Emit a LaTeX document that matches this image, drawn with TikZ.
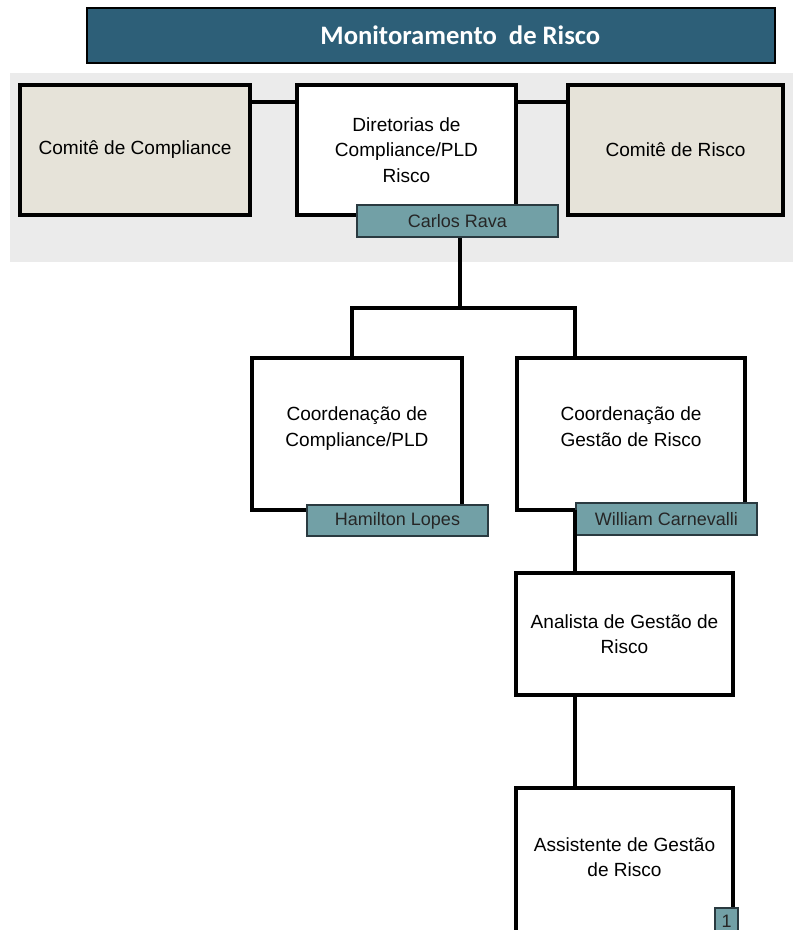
\documentclass[tikz,border=0pt]{standalone}
\usepackage{fontspec}
\setmainfont{Liberation Sans}
\newfontfamily\titlefont{Carlito}
\usetikzlibrary{calc}
\definecolor{titlebg}{HTML}{2D5F78}
\definecolor{bandbg}{HTML}{EBEBEB}
\definecolor{beige}{HTML}{E6E3D9}
\definecolor{tagbg}{HTML}{72A0A6}
\definecolor{tagline}{HTML}{2A3A40}
\tikzset{
  box/.style={draw=black, line width=2.8pt, align=center, inner sep=0pt, font=\fontsize{14.3}{19.2}\selectfont},
  tag/.style={draw=tagline, line width=1.3pt, fill=tagbg, inner sep=0pt, text=black!85, font=\fontsize{13.5}{16}\selectfont},
  conn/.style={draw=black, line width=2.8pt}
}
\begin{document}
\begin{tikzpicture}[x=0.75pt,y=-0.75pt]
\useasboundingbox (0,0) rectangle (793,930);
\clip (0,0) rectangle (793,930);
% title
\node[draw=black, line width=1pt, fill=titlebg, minimum width=516pt, minimum height=41.25pt, inner sep=0pt,
  text=white, font=\titlefont\bfseries\fontsize{20}{24}\selectfont] (title) at (431,35.5) {\hspace*{44pt}Monitoramento~ de Risco};
% band
\fill[bandbg] (10,73) rectangle (793,262);
% nodes
\node[box, fill=beige, minimum width=172.5pt, minimum height=97.5pt] (cc) at (135,150) {Comitê de Compliance};
\node[box, fill=white, minimum width=164.25pt, minimum height=97.5pt] (dir) at (406.5,150) {Diretorias de\\Compliance/PLD\\Risco};
\node[box, fill=beige, minimum width=161.25pt, minimum height=97.5pt] (cr) at (675.5,150) {Comitê de Risco};
\node[box, fill=white, minimum width=157.5pt, minimum height=114pt] (co1) at (357,434) {Coordenação de\\Compliance/PLD\\[-8.5pt]\mbox{}};
\node[box, fill=white, minimum width=171pt, minimum height=114pt] (co2) at (631,434) {Coordenação de\\Gestão de Risco\\[-8.5pt]\mbox{}};
\node[box, fill=white, minimum width=162.75pt, minimum height=91.5pt] (an) at (624.5,634) {Analista de Gestão de\\Risco};
\node[box, fill=white, minimum width=162.75pt, minimum height=114pt] (as) at (624.5,864) {Assistente de Gestão\\de Risco\\[-9pt]\mbox{}};
% tags
\node[tag, minimum width=150.75pt, minimum height=24pt] (carlos) at (457.5,221) {Carlos Rava};
\node[tag, minimum width=135.75pt, minimum height=23.25pt] (ham) at (397.5,520.5) {Hamilton Lopes};
\node[tag, minimum width=135.75pt, minimum height=24pt] (wil) at (666.5,519) {William Carnevalli};
\node[tag, minimum width=17.25pt, minimum height=19.5pt] (one) at (726.5,921) {1};
% connectors
\coordinate (hub) at (460,308);
\coordinate (d1) at (352,358);
\coordinate (d2) at (575,358);
\coordinate (d2b) at (575,510);
\draw[conn] ($(cc.north east)!0.14!(cc.south east)$) -- ($(dir.north west)!0.14!(dir.south west)$);
\draw[conn] ($(dir.north east)!0.14!(dir.south east)$) -- ($(cr.north west)!0.14!(cr.south west)$);
\draw[conn] (carlos.south -| hub) -- (hub);
\draw[conn] (d1) |- (hub) -| (d2);
\draw[conn] (d2b) -- (d2b |- an.north);
\draw[conn] (d2b |- an.south) -- (d2b |- as.north);
\end{tikzpicture}
\end{document}
